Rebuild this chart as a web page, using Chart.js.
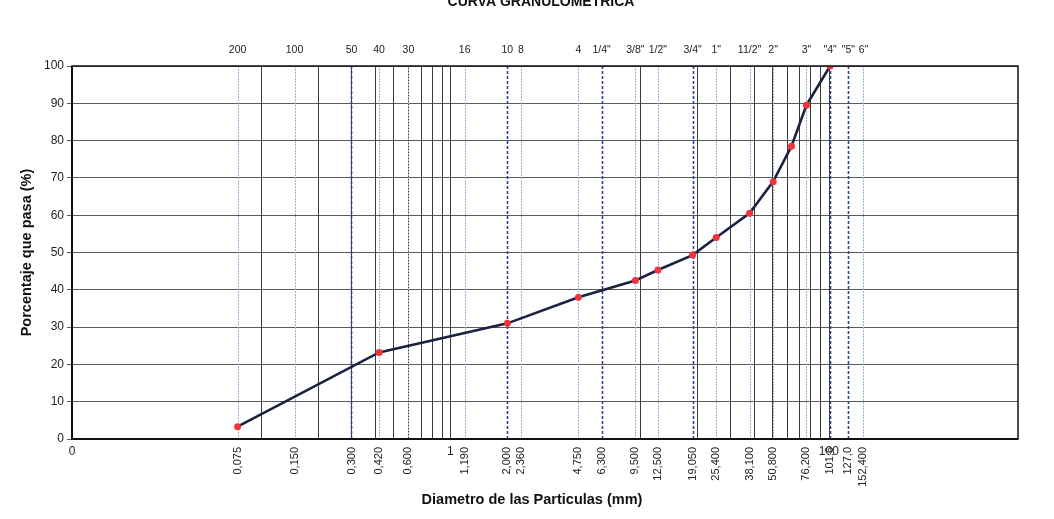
<!DOCTYPE html>
<html>
<head>
<meta charset="utf-8">
<script src="https://cdn.jsdelivr.net/npm/chart.js@4/dist/chart.umd.min.js"></script>
<style>
  html, body { margin: 0; padding: 0; background: #fff; }
  #wrap { width: 1054px; height: 519px; position: relative; }
</style>
</head>
<body>
<div id="wrap"><canvas id="granuloChart"></canvas></div>
<script>
// abertura de tamices (mm) y sus nombres
var sieveMm = [0.075, 0.150, 0.300, 0.420, 0.600, 1.190, 2.000, 2.360, 4.750, 6.300,
               9.500, 12.500, 19.050, 25.400, 38.100, 50.800, 76.200, 101.6, 127.0, 152.400];
var sieveNames = ['200', '100', '50', '40', '30', '16', '10', '8', '4', '1/4"',
                  '3/8"', '1/2"', '3/4"', '1"', '11/2"', '2"', '3"', '"4"', '"5"', '6"'];
var sieveLabels = ['0,075', '0,150', '0,300', '0,420', '0,600', '1,190', '2,000', '2,360', '4,750', '6,300',
                   '9,500', '12,500', '19,050', '25,400', '38,100', '50,800', '76,200', '101,6', '127,0', '152,400'];

// curva granulometrica: diametro (mm) y % que pasa
var diametro = [0.075, 0.42, 2.0, 4.75, 9.5, 12.5, 19.05, 25.4, 38.1, 50.8, 63.5, 76.2, 101.6];
var pasa = [3.3, 23.2, 31.0, 38.0, 42.5, 45.3, 49.3, 54.0, 60.5, 69.0, 78.5, 89.5, 100];

// etiquetas principales del eje log
var majorValues = [0.01, 1, 100];
var majorLabels = ['0', '1', '100'];

// lineas de la cuadricula logaritmica
var logGrid = [0.1, 0.2, 0.3, 0.4, 0.5, 0.6, 0.7, 0.8, 0.9, 1,
               10, 20, 30, 40, 50, 60, 70, 80, 90, 100];
var boldSieves = [0.300, 2.000, 6.300, 19.050, 101.6, 127.0];

var points = diametro.map(function (d, i) { return {x: d, y: pasa[i]}; });

var gridPlugin = {
    id: 'gridPlugin',
    beforeDatasetsDraw: function (chart) {
        var ctx = chart.ctx, a = chart.chartArea, sx = chart.scales.x;
        ctx.save();
        ctx.beginPath();
        ctx.rect(a.left, a.top, a.right - a.left, a.bottom - a.top);
        ctx.clip();
        ctx.strokeStyle = '#3c3c3c';
        ctx.lineWidth = 1;
        logGrid.forEach(function (v) {
            var px = Math.round(sx.getPixelForValue(v)) + 0.5;
            ctx.beginPath(); ctx.moveTo(px, a.top); ctx.lineTo(px, a.bottom); ctx.stroke();
        });
        sieveMm.forEach(function (v) {
            var px = Math.round(sx.getPixelForValue(v)) + 0.5;
            if (boldSieves.indexOf(v) >= 0) {
                ctx.strokeStyle = '#2c4596';
                ctx.lineWidth = 1.6;
                ctx.setLineDash([3, 2]);
            } else {
                ctx.strokeStyle = '#9fb0dc';
                ctx.lineWidth = 1;
                ctx.setLineDash([2, 1]);
            }
            ctx.beginPath(); ctx.moveTo(px, a.top); ctx.lineTo(px, a.bottom); ctx.stroke();
        });
        ctx.restore();
    },
    afterDraw: function (chart) {
        var ctx = chart.ctx, a = chart.chartArea, sx = chart.scales.x;
        ctx.save();
        ctx.strokeStyle = '#111';
        ctx.lineWidth = 1.5;
        ctx.strokeRect(a.left, a.top, a.right - a.left, a.bottom - a.top);
        ctx.lineWidth = 2;
        ctx.beginPath();
        ctx.moveTo(a.left, a.top); ctx.lineTo(a.left, a.bottom); ctx.lineTo(a.right, a.bottom);
        ctx.stroke();
        // etiquetas 0, 1, 100
        ctx.fillStyle = '#222';
        ctx.font = '12px "Liberation Sans", Arial, sans-serif';
        ctx.textAlign = 'center';
        ctx.textBaseline = 'middle';
        majorValues.forEach(function (v, i) {
            ctx.fillText(majorLabels[i], sx.getPixelForValue(v), a.bottom + 13);
        });
        // titulo del eje x
        ctx.font = 'bold 14.5px "Liberation Sans", Arial, sans-serif';
        ctx.fillStyle = '#111';
        ctx.fillText('Diametro de las Particulas (mm)', 532, 500);
        // titulo (cortado en el borde superior del escaneo)
        ctx.font = 'bold 14px "Liberation Sans Narrow", "Liberation Sans", sans-serif';
        ctx.fillText('CURVA GRANULOMETRICA', 541, 2);
        ctx.restore();
    }
};

var chartElem = document.getElementById('granuloChart');
var granuloChart = new Chart(chartElem, {
    type: 'line',
    data: {
        datasets: [{
            label: 'Curva granulometrica',
            data: points,
            xAxisID: 'x',
            yAxisID: 'y',
            borderColor: '#1b2140',
            borderWidth: 2.6,
            tension: 0,
            fill: false,
            pointRadius: 3.5,
            pointBackgroundColor: '#f2333c',
            pointBorderWidth: 0
        }]
    },
    options: {
        responsive: true,
        maintainAspectRatio: false,
        animation: false,
        layout: {padding: {left: 14, right: 36, top: 0, bottom: 7}},
        plugins: {legend: {display: false}, tooltip: {enabled: false}},
        scales: {
            x: {
                type: 'logarithmic',
                position: 'bottom',
                min: 0.01,
                max: 1000,
                afterBuildTicks: function (axis) {
                    axis.ticks = sieveMm.map(function (v) { return {value: v}; });
                },
                afterFit: function (axis) { axis.height = 73; },
                grid: {display: false},
                border: {display: false},
                ticks: {
                    autoSkip: false,
                    minRotation: 90,
                    maxRotation: 90,
                    padding: 0,
                    color: '#222',
                    font: {family: '"Liberation Sans", Arial, sans-serif', size: 11},
                    callback: function (val, i) { return sieveLabels[i]; }
                }
            },
            x2: {
                type: 'logarithmic',
                position: 'top',
                min: 0.01,
                max: 1000,
                afterBuildTicks: function (axis) {
                    axis.ticks = sieveMm.map(function (v) { return {value: v}; });
                },
                afterFit: function (axis) { axis.height = 66; },
                grid: {display: false, drawTicks: false},
                border: {display: false},
                ticks: {
                    autoSkip: false,
                    minRotation: 0,
                    maxRotation: 0,
                    padding: 10,
                    color: '#222',
                    font: {family: '"Liberation Sans", Arial, sans-serif', size: 10.5},
                    callback: function (val, i) { return sieveNames[i]; }
                }
            },
            y: {
                min: 0,
                max: 100,
                afterFit: function (axis) { axis.width = 58; },
                border: {display: false},
                grid: {color: '#5a5a5a', lineWidth: 1, tickLength: 5, tickColor: '#5a5a5a'},
                ticks: {
                    stepSize: 10,
                    padding: 3,
                    color: '#222',
                    font: {family: '"Liberation Sans", Arial, sans-serif', size: 12}
                },
                title: {
                    display: true,
                    text: 'Porcentaje que pasa (%)',
                    color: '#111',
                    padding: {top: 4, bottom: 4},
                    font: {family: '"Liberation Sans", Arial, sans-serif', size: 14.5, weight: 'bold'}
                }
            }
        }
    },
    plugins: [gridPlugin]
});
</script>
</body>
</html>
